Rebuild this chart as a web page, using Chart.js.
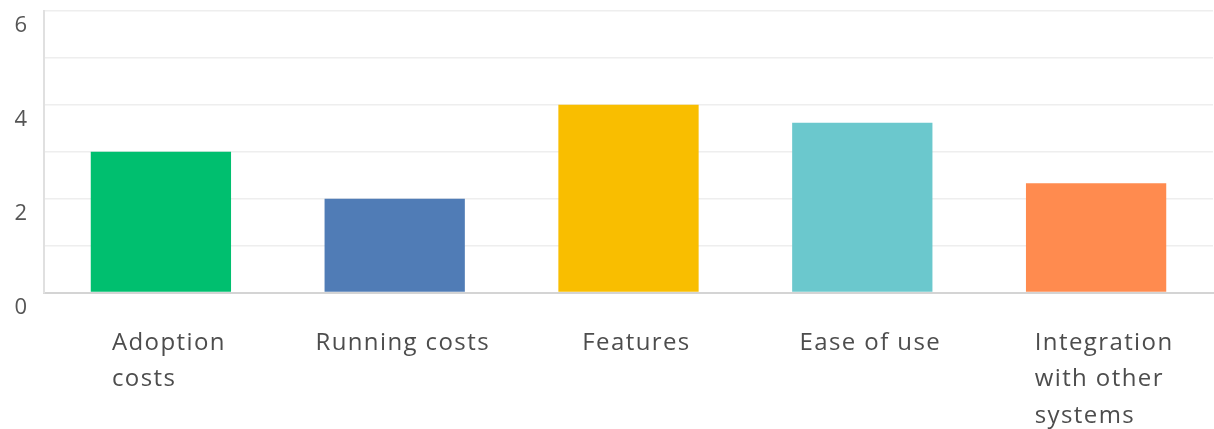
<!DOCTYPE html>
<html>
<head>
<meta charset="utf-8">
<script src="https://cdn.jsdelivr.net/npm/chart.js@4"></script>
<style>
    body { margin: 0; background: #fff; }
    #wrap { width: 1214px; height: 429px; position: relative; }
</style>
</head>
<body>
<div id="wrap"><canvas id="ratingChart"></canvas></div>
<script>
const categories = [
    ["Adoption", "costs"],
    ["Running costs"],
    ["Features"],
    ["Ease of use"],
    ["Integration", "with other", "systems"]
];
const averageScores = [3, 2, 4, 3.62, 2.33];
const barColors = ["#00bf6f", "#507cb6", "#f9be00", "#6bc8cd", "#ff8b4f"];
const yTickLabels = [0, 2, 4, 6];

document.addEventListener("DOMContentLoaded", function () {

    // подписи по оси X рисуем сами, чтобы строки были выровнены влево
    const leftLabels = {
        id: "leftLabels",
        afterDraw(chart) {
            const ctx = chart.ctx;
            const xScale = chart.scales.x;
            const base = chart.chartArea.bottom;
            ctx.save();
            ctx.font = "24px 'Open Sans'";
            ctx.letterSpacing = "1.4px";
            ctx.fillStyle = "#4d4d4d";
            ctx.textAlign = "left";
            ctx.textBaseline = "alphabetic";
            categories.forEach((lines, i) => {
                const widths = lines.map(line => ctx.measureText(line).width);
                const blockWidth = Math.max(...widths);
                const left = xScale.getPixelForTick(i) + 8 - blockWidth / 2;
                lines.forEach((line, j) => {
                    ctx.fillText(line, left, base + 57 + j * 36.5);
                });
            });
            ctx.restore();
        }
    };

    new Chart(document.getElementById("ratingChart"), {
        type: "bar",
        data: {
            labels: categories,
            datasets: [{
                data: averageScores,
                backgroundColor: barColors,
                borderWidth: 0,
                barPercentage: 0.6,
                categoryPercentage: 1
            }]
        },
        options: {
            responsive: true,
            maintainAspectRatio: false,
            animation: false,
            layout: { padding: { top: 11, right: 1 } },
            plugins: {
                legend: { display: false },
                tooltip: { enabled: false }
            },
            scales: {
                x: {
                    grid: { display: false },
                    border: { color: "#d4d4d4", width: 2 },
                    ticks: {
                        color: "transparent",
                        font: { family: "'Open Sans'", size: 24 },
                        maxRotation: 0
                    },
                    afterFit(scale) {
                        scale.height = 136.5;
                        scale.paddingLeft = 0;
                        scale.paddingRight = 0;
                    }
                },
                y: {
                    min: 0,
                    max: 6,
                    grid: { color: "#eeeeee", lineWidth: 1.5, drawTicks: false },
                    border: { color: "#e0e0e0", width: 2 },
                    ticks: {
                        stepSize: 1,
                        padding: 17,
                        labelOffset: 15,
                        color: "#555",
                        font: { family: "'Open Sans'", size: 22 },
                        callback: value => yTickLabels.includes(value) ? value : ""
                    },
                    afterFit(scale) {
                        scale.width = 44;
                        scale.paddingTop = 0;
                        scale.paddingBottom = 0;
                    }
                }
            }
        },
        plugins: [leftLabels]
    });
});
</script>
</body>
</html>
